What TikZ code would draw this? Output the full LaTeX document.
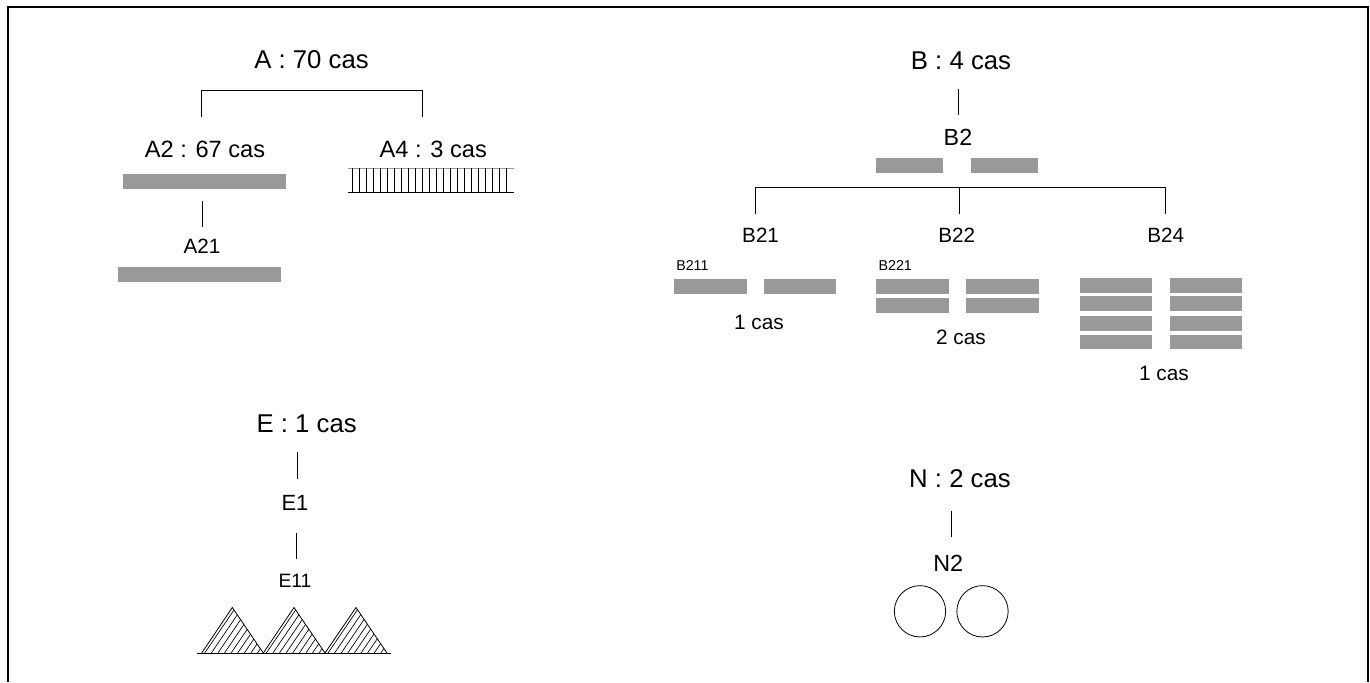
\documentclass[tikz,border=0pt]{standalone}
\usepackage{fontspec}
\setmainfont{Liberation Sans}
\definecolor{bargray}{RGB}{153,153,153}
\newcommand{\fsz}[1]{\fontsize{#1}{#1}\selectfont}
\begin{document}
\begin{tikzpicture}[x=0.75pt,y=-0.75pt,
  lbl/.style={inner sep=0pt},
  big/.style={lbl,font=\fsz{19.3}},
  mid/.style={lbl,font=\fsz{17.7}},
  lnk/.style={draw=black,line width=0.6pt},
  bar/.style={fill=bargray},
  ring/.style={draw=black,line width=0.6pt,circle,minimum size=38.5pt,inner sep=0pt}]
\useasboundingbox (0,0) rectangle (1370,682);
% frame
\draw[line width=1.4pt] (8,682) -- (8,7) -- (1368,7) -- (1368,682);

% ---------- A ----------
\node[big] (A) at (311.5,60) {A : 70 cas};
\coordinate (Al) at (201.5,116.7); \coordinate (Ar) at (422.3,116.7);
\draw[lnk] (Al) -- (201.5,90) -- (422.3,90) -- (Ar);
\node[mid] (A2) at (205,149) {A2 : 67 cas};
\fill[bar] (122.7,174) rectangle (285.7,189);
\coordinate (A2a) at (202.7,201); \coordinate (A2b) at (202.7,227.3);
\draw[lnk] (A2a) -- (A2b);
\node[lbl,font=\fsz{15.5}] (A21) at (202,246.7) {A21};
\fill[bar] (118.3,266.7) rectangle (281,281.7);
\node[mid] (A4) at (433.3,149) {A4 : 3 cas};
\draw[line width=0.6pt,draw=bargray] (348.3,168.3) -- (514.3,168.3);
\draw[line width=0.6pt] (348.3,192.3) -- (514.3,192.3);
\foreach \i in {0,...,22} \draw[line width=0.5pt] ({352+7.0*\i},168.3) -- ({352+7.0*\i},192.3);

% ---------- B ----------
\node[big] (B) at (961,60.5) {B : 4 cas};
\coordinate (Ba) at (958,89.3); \coordinate (Bb) at (958,115);
\draw[lnk] (Ba) -- (Bb);
\node[lbl,font=\fsz{17.5}] (B2) at (958,137.5) {B2};
\fill[bar] (876.4,158.3) rectangle (943.2,172.7);
\fill[bar] (971,158.3) rectangle (1037.9,172.7);
\coordinate (B21t) at (755.4,214); \coordinate (B22t) at (959.6,214); \coordinate (B24t) at (1165,214);
\draw[lnk] (B21t) -- (755.4,187.3) -- (1165,187.3) -- (B24t);
\draw[lnk] (959.6,187.3) -- (B22t);
\node[lbl,font=\fsz{15.5}] (B21) at (760.6,235) {B21};
\node[lbl,font=\fsz{15.5}] (B22) at (956.7,235) {B22};
\node[lbl,font=\fsz{15.5}] (B24) at (1165.7,235) {B24};
\node[lbl,font=\fsz{10.7},anchor=west] (B211) at (676,265.3) {B211};
\fill[bar] (674.1,279.3) rectangle (746.6,294);
\fill[bar] (763.8,279.3) rectangle (836.3,294);
\node[lbl,font=\fsz{15.6}] (c1) at (759,322) {1 cas};
\node[lbl,font=\fsz{10.7},anchor=west] (B221) at (878.3,265.3) {B221};
\foreach \y/\z in {279.3/294, 298.3/312.7} {
  \fill[bar] (876.4,\y) rectangle (949,\z);
  \fill[bar] (966,\y) rectangle (1038.6,\z);
}
\node[lbl,font=\fsz{15.6}] (c2) at (961,337.5) {2 cas};
\foreach \y/\z in {278.3/292.7, 296/310.7, 316/330.7, 335/349.3} {
  \fill[bar] (1079.8,\y) rectangle (1152.4,\z);
  \fill[bar] (1169.5,\y) rectangle (1242,\z);
}
\node[lbl,font=\fsz{15.6}] (c3) at (1164,373) {1 cas};

% ---------- E ----------
\node[big] (E) at (306.7,424) {E : 1 cas};
\coordinate (Ea) at (297.3,451.7); \coordinate (Eb) at (297.3,479.3);
\draw[lnk] (Ea) -- (Eb);
\node[lbl,font=\fsz{16.5}] (E1) at (295,502.5) {E1};
\coordinate (E1a) at (296,533); \coordinate (E1b) at (296,559);
\draw[lnk] (E1a) -- (E1b);
\node[lbl,font=\fsz{14.5}] (E11) at (295,581) {E11};
\foreach \xa/\xm/\xb in {201.7/232.3/263.3, 263.3/294/325, 325/356/387} {
  \begin{scope}
    \clip (\xa,653) -- (\xm,607.5) -- (\xb,653) -- cycle;
    \foreach \k in {0,...,16} \draw[line width=0.5pt] ({\xa-30+6.6*\k},653) -- ({\xa-30+6.6*\k+31},607.5);
  \end{scope}
  \draw[line width=0.6pt] (\xa,653) -- (\xm,607.5) -- (\xb,653);
}
\draw[line width=0.8pt] (196.7,653.3) -- (390.7,653.3);

% ---------- N ----------
\node[big] (N) at (960,479) {N : 2 cas};
\coordinate (Na) at (951.7,510.7); \coordinate (Nb) at (951.7,536.7);
\draw[lnk] (Na) -- (Nb);
\node[lbl,font=\fsz{17.5}] (N2) at (948.3,563.3) {N2};
\node[ring] (o1) at (920,611.3) {};
\node[ring] (o2) at (982.5,611.3) {};
\end{tikzpicture}
\end{document}
